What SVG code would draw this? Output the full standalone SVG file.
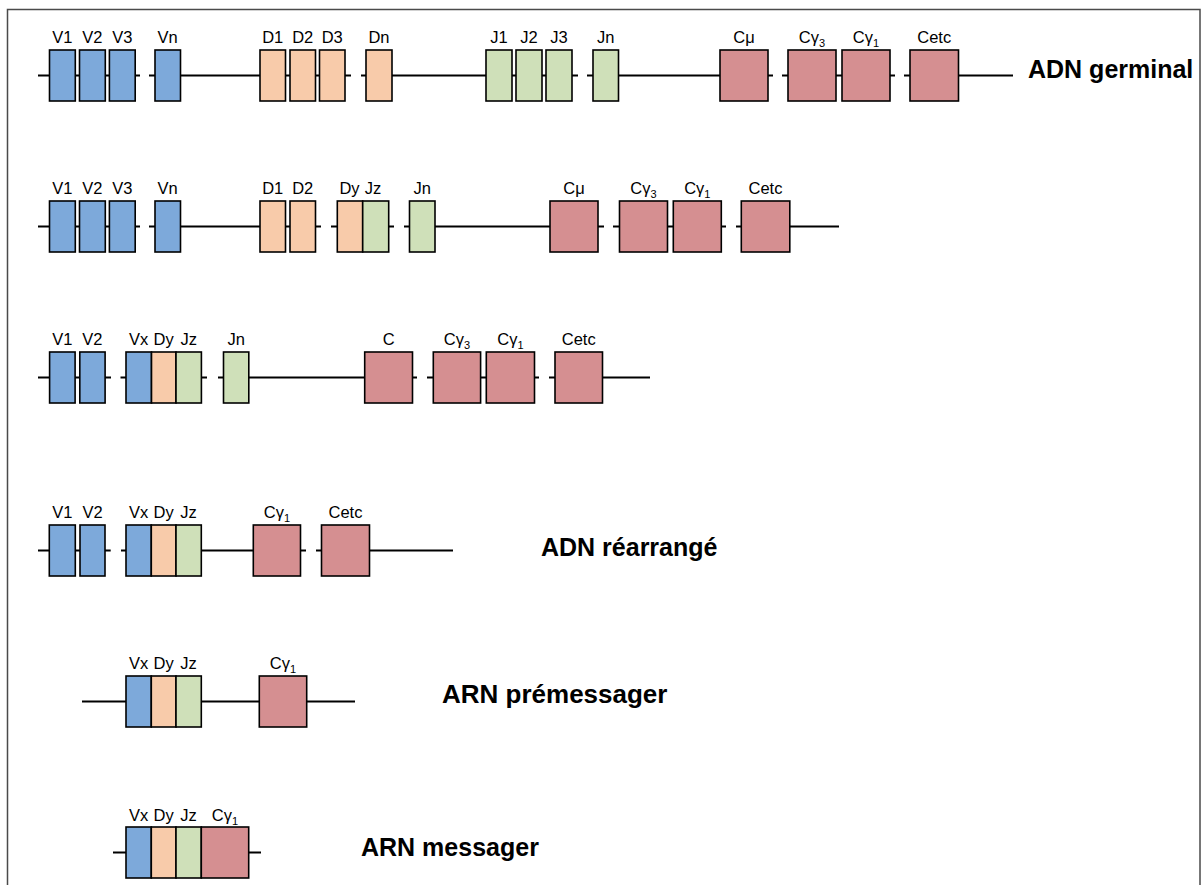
<svg xmlns="http://www.w3.org/2000/svg" width="1201" height="885" viewBox="0 0 1201 885">
<style>
.bx{stroke:#000;stroke-width:1.6}
.v{fill:#7DA9DA}.d{fill:#F8CBAA}.j{fill:#CFE0B9}.c{fill:#D58F91}
.ln{stroke:#000;stroke-width:2;fill:none}
.lb{font-family:"Liberation Sans",Arial,sans-serif;font-size:16.5px;text-anchor:middle;fill:#000}
.sub{font-size:11px}
.tt{font-family:"Liberation Sans",Arial,sans-serif;font-size:25px;font-weight:bold;fill:#000}
</style>
<rect x="7.5" y="9.5" width="1192.5" height="900" fill="#fff" stroke="#4a4a4a" stroke-width="1.5"/>
<g id="connectors">
<path class="ln" d="M38,75.5H140M149,75.5H351M361,75.5H578M587,75.5H773M782,75.5H895M904,75.5H1013"/>
<path class="ln" d="M38,226.5H140M149,226.5H321M331,226.5H394M404,226.5H604M613,226.5H726M736,226.5H839"/>
<path class="ln" d="M38,377.5H111M120.5,377.5H207M218,377.5H417M427,377.5H539M549,377.5H650"/>
<path class="ln" d="M38,550.5H110.7M121,550.5H306M316,550.5H453"/>
<path class="ln" d="M82,701.5H355"/>
<path class="ln" d="M113,852.5H261"/>
</g>
<g id="row1">
<g id="r1-V1"><rect class="bx v" x="49.5" y="50" width="25.8" height="51"/><text class="lb" x="62.4" y="43">V1</text></g>
<g id="r1-V2"><rect class="bx v" x="79.5" y="50" width="25.8" height="51"/><text class="lb" x="92.4" y="43">V2</text></g>
<g id="r1-V3"><rect class="bx v" x="109.4" y="50" width="25.8" height="51"/><text class="lb" x="122.3" y="43">V3</text></g>
<g id="r1-Vn"><rect class="bx v" x="155" y="50" width="25.5" height="51"/><text class="lb" x="167.7" y="43">Vn</text></g>
<g id="r1-D1"><rect class="bx d" x="260" y="50" width="25.5" height="51"/><text class="lb" x="272.7" y="43">D1</text></g>
<g id="r1-D2"><rect class="bx d" x="290" y="50" width="25.5" height="51"/><text class="lb" x="302.7" y="43">D2</text></g>
<g id="r1-D3"><rect class="bx d" x="319.5" y="50" width="25.5" height="51"/><text class="lb" x="332.2" y="43">D3</text></g>
<g id="r1-Dn"><rect class="bx d" x="366" y="50" width="26" height="51"/><text class="lb" x="379" y="43">Dn</text></g>
<g id="r1-J1"><rect class="bx j" x="486" y="50" width="26" height="51"/><text class="lb" x="499" y="43">J1</text></g>
<g id="r1-J2"><rect class="bx j" x="516" y="50" width="26" height="51"/><text class="lb" x="529" y="43">J2</text></g>
<g id="r1-J3"><rect class="bx j" x="546" y="50" width="26" height="51"/><text class="lb" x="559" y="43">J3</text></g>
<g id="r1-Jn"><rect class="bx j" x="593" y="50" width="25.5" height="51"/><text class="lb" x="605.7" y="43">Jn</text></g>
<g id="r1-Cmu"><rect class="bx c" x="720" y="50" width="48" height="51"/><text class="lb" x="744" y="43">Cμ</text></g>
<g id="r1-Cg3"><rect class="bx c" x="788" y="50" width="48" height="51"/><text class="lb" x="812" y="43">Cγ<tspan class="sub" dy="4">3</tspan></text></g>
<g id="r1-Cg1"><rect class="bx c" x="842" y="50" width="48" height="51"/><text class="lb" x="866" y="43">Cγ<tspan class="sub" dy="4">1</tspan></text></g>
<g id="r1-Cetc"><rect class="bx c" x="910" y="50" width="48.5" height="51"/><text class="lb" x="934.2" y="43">Cetc</text></g>
<text id="t1" class="tt" x="1028" y="78">ADN germinal</text>
</g>
<g id="row2">
<g id="r2-V1"><rect class="bx v" x="49.5" y="201" width="25.8" height="51"/><text class="lb" x="62.4" y="194">V1</text></g>
<g id="r2-V2"><rect class="bx v" x="79.5" y="201" width="25.8" height="51"/><text class="lb" x="92.4" y="194">V2</text></g>
<g id="r2-V3"><rect class="bx v" x="109.4" y="201" width="25.8" height="51"/><text class="lb" x="122.3" y="194">V3</text></g>
<g id="r2-Vn"><rect class="bx v" x="155" y="201" width="25.5" height="51"/><text class="lb" x="167.7" y="194">Vn</text></g>
<g id="r2-D1"><rect class="bx d" x="260" y="201" width="25.5" height="51"/><text class="lb" x="272.7" y="194">D1</text></g>
<g id="r2-D2"><rect class="bx d" x="290" y="201" width="25.5" height="51"/><text class="lb" x="302.7" y="194">D2</text></g>
<g id="r2-Dy"><rect class="bx d" x="337.3" y="201" width="25.4" height="51"/><text class="lb" x="349.5" y="194">Dy</text></g>
<g id="r2-Jz"><rect class="bx j" x="362.7" y="201" width="26" height="51"/><text class="lb" x="373" y="194">Jz</text></g>
<g id="r2-Jn"><rect class="bx j" x="409.5" y="201" width="25.5" height="51"/><text class="lb" x="422.2" y="194">Jn</text></g>
<g id="r2-Cmu"><rect class="bx c" x="550" y="201" width="48" height="51"/><text class="lb" x="574" y="194">Cμ</text></g>
<g id="r2-Cg3"><rect class="bx c" x="619.5" y="201" width="48" height="51"/><text class="lb" x="643.5" y="194">Cγ<tspan class="sub" dy="4">3</tspan></text></g>
<g id="r2-Cg1"><rect class="bx c" x="673.3" y="201" width="48" height="51"/><text class="lb" x="697.3" y="194">Cγ<tspan class="sub" dy="4">1</tspan></text></g>
<g id="r2-Cetc"><rect class="bx c" x="741.3" y="201" width="48.5" height="51"/><text class="lb" x="765.5" y="194">Cetc</text></g>
</g>
<g id="row3">
<g id="r3-V1"><rect class="bx v" x="49.6" y="352" width="25.5" height="51"/><text class="lb" x="62.3" y="345">V1</text></g>
<g id="r3-V2"><rect class="bx v" x="79.8" y="352" width="25.3" height="51"/><text class="lb" x="92.4" y="345">V2</text></g>
<g id="r3-Vx"><rect class="bx v" x="126" y="352" width="25.5" height="51"/><text class="lb" x="138.7" y="345">Vx</text></g>
<g id="r3-Dy"><rect class="bx d" x="151.5" y="352" width="24.5" height="51"/><text class="lb" x="163.7" y="345">Dy</text></g>
<g id="r3-Jz"><rect class="bx j" x="176" y="352" width="25.4" height="51"/><text class="lb" x="188.7" y="345">Jz</text></g>
<g id="r3-Jn"><rect class="bx j" x="223.5" y="352" width="25.3" height="51"/><text class="lb" x="236.1" y="345">Jn</text></g>
<g id="r3-C"><rect class="bx c" x="364.7" y="352" width="47.8" height="51"/><text class="lb" x="388.6" y="345">C</text></g>
<g id="r3-Cg3"><rect class="bx c" x="433.3" y="352" width="47.3" height="51"/><text class="lb" x="457" y="345">Cγ<tspan class="sub" dy="4">3</tspan></text></g>
<g id="r3-Cg1"><rect class="bx c" x="486.3" y="352" width="48.2" height="51"/><text class="lb" x="510.4" y="345">Cγ<tspan class="sub" dy="4">1</tspan></text></g>
<g id="r3-Cetc"><rect class="bx c" x="555" y="352" width="47.5" height="51"/><text class="lb" x="578.7" y="345">Cetc</text></g>
</g>
<g id="row4">
<g id="r4-V1"><rect class="bx v" x="49.3" y="525" width="26" height="51"/><text class="lb" x="62.3" y="518">V1</text></g>
<g id="r4-V2"><rect class="bx v" x="80" y="525" width="25" height="51"/><text class="lb" x="92.5" y="518">V2</text></g>
<g id="r4-Vx"><rect class="bx v" x="126" y="525" width="25.3" height="51"/><text class="lb" x="138.6" y="518">Vx</text></g>
<g id="r4-Dy"><rect class="bx d" x="151.3" y="525" width="24.7" height="51"/><text class="lb" x="163.6" y="518">Dy</text></g>
<g id="r4-Jz"><rect class="bx j" x="176" y="525" width="25.3" height="51"/><text class="lb" x="188.6" y="518">Jz</text></g>
<g id="r4-Cg1"><rect class="bx c" x="253.3" y="525" width="47.2" height="51"/><text class="lb" x="276.9" y="518">Cγ<tspan class="sub" dy="4">1</tspan></text></g>
<g id="r4-Cetc"><rect class="bx c" x="321.5" y="525" width="48" height="51"/><text class="lb" x="345.5" y="518">Cetc</text></g>
<text id="t4" class="tt" x="541" y="556">ADN réarrangé</text>
</g>
<g id="row5">
<g id="r5-Vx"><rect class="bx v" x="126" y="676" width="25.3" height="51"/><text class="lb" x="138.6" y="669">Vx</text></g>
<g id="r5-Dy"><rect class="bx d" x="151.3" y="676" width="24.7" height="51"/><text class="lb" x="163.6" y="669">Dy</text></g>
<g id="r5-Jz"><rect class="bx j" x="176" y="676" width="25.3" height="51"/><text class="lb" x="188.6" y="669">Jz</text></g>
<g id="r5-Cg1"><rect class="bx c" x="259.3" y="676" width="47.4" height="51"/><text class="lb" x="283" y="669">Cγ<tspan class="sub" dy="4">1</tspan></text></g>
<text id="t5" class="tt" x="442" y="703" style="font-size:26px">ARN prémessager</text>
</g>
<g id="row6">
<g id="r6-Vx"><rect class="bx v" x="126" y="827" width="25.3" height="51"/><text class="lb" x="138.6" y="821">Vx</text></g>
<g id="r6-Dy"><rect class="bx d" x="151.3" y="827" width="24.7" height="51"/><text class="lb" x="163.6" y="821">Dy</text></g>
<g id="r6-Jz"><rect class="bx j" x="176" y="827" width="25.3" height="51"/><text class="lb" x="188.6" y="821">Jz</text></g>
<g id="r6-Cg1"><rect class="bx c" x="201.3" y="827" width="47.4" height="51"/><text class="lb" x="225" y="821">Cγ<tspan class="sub" dy="4">1</tspan></text></g>
<text id="t6" class="tt" x="361" y="856">ARN messager</text>
</g>
</svg>
